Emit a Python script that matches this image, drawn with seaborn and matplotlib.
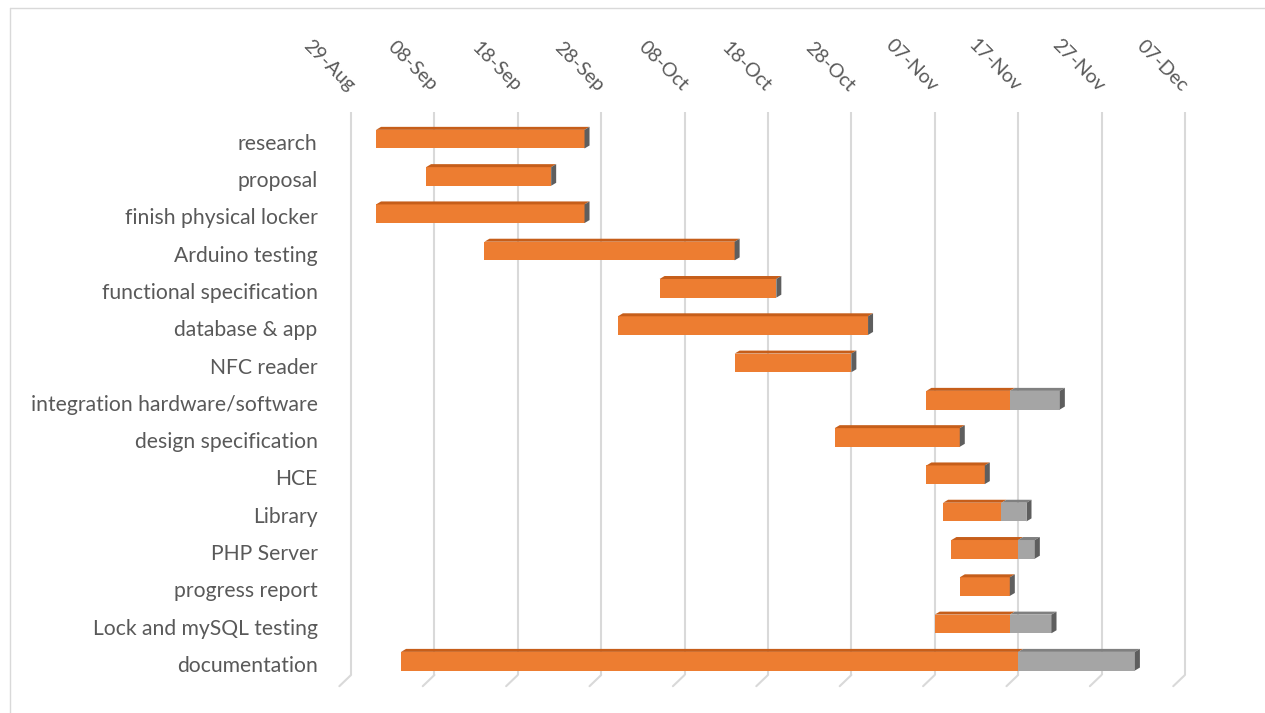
import numpy as np
import pandas as pd
import matplotlib
matplotlib.use("Agg")
import matplotlib.pyplot as plt
from matplotlib.patches import Polygon
from matplotlib.lines import Line2D
import seaborn as sns

# Gantt data (day 0 = 29-Aug)
tasks = ["research", "proposal", "finish physical locker", "Arduino testing",
         "functional specification", "database & app", "NFC reader",
         "integration hardware/software", "design specification", "HCE",
         "Library", "PHP Server", "progress report", "Lock and mySQL testing",
         "documentation"]
start_dates = ["2017-09-01", "2017-09-07", "2017-09-01", "2017-09-14",
               "2017-10-05", "2017-09-30", "2017-10-14", "2017-11-06",
               "2017-10-26", "2017-11-06", "2017-11-08", "2017-11-09",
               "2017-11-10", "2017-11-07", "2017-09-04"]
done_days = [25, 15, 25, 30, 14, 30, 14, 10, 15, 7, 7, 8, 6, 9, 74]
remaining_days = [0, 0, 0, 0, 0, 0, 0, 6, 0, 0, 3, 2, 0, 5, 14]
tick_labels = ["29-Aug", "08-Sep", "18-Sep", "28-Sep", "08-Oct", "18-Oct",
               "28-Oct", "07-Nov", "17-Nov", "27-Nov", "07-Dec"]

origin = pd.Timestamp("2017-08-29")
df = pd.DataFrame({"task": tasks, "done": done_days, "rest": remaining_days})
df["start"] = (pd.to_datetime(start_dates) - origin).days
df["done_end"] = df["start"] + df["done"]
df["total_end"] = df["done_end"] + df["rest"]

ORANGE = "#ED7D31"
GRAY = "#A5A5A5"
TXT = "#595959"

sns.set_theme(style="white")
plt.rcParams["font.family"] = ["Lato", "DejaVu Sans"]

fig = plt.figure(figsize=(12.65, 7.13), dpi=100)
ax = fig.add_axes([0.2709, 0.0533, 0.6724, 0.7897])

sns.barplot(data=df, y="task", x="total_end", color=GRAY, orient="h",
            width=0.5, saturation=1, linewidth=0, ax=ax)
n = len(df)
gray_patches = list(ax.patches)
sns.barplot(data=df, y="task", x="done_end", color=ORANGE, orient="h",
            width=0.5, saturation=1, linewidth=0, ax=ax)
orange_patches = list(ax.patches)[n:]

dx, dy = 0.6, 0.08
lift = 0.07   # 3D bars sit slightly above their labels
for i, row in df.iterrows():
    gp, op = gray_patches[i], orange_patches[i]
    op.set_x(row["start"]); op.set_width(row["done"])
    gp.set_x(row["done_end"]); gp.set_width(row["rest"])
    op.set_y(op.get_y() - lift); gp.set_y(gp.get_y() - lift)
    y0 = op.get_y()              # top edge (axis inverted)
    y1 = y0 + op.get_height()
    segs = [(row["start"], row["done_end"], "#C65E1A")]
    if row["rest"] > 0:
        segs.append((row["done_end"], row["total_end"], "#808080"))
    for a, b, c in segs:
        ax.add_patch(Polygon([(a, y0), (b, y0), (b + dx, y0 - dy), (a + dx, y0 - dy)],
                             closed=True, facecolor=c, edgecolor="none", zorder=3))
    xe = row["total_end"]
    ax.add_patch(Polygon([(xe, y0), (xe + dx, y0 - dy), (xe + dx, y1 - dy), (xe, y1)],
                         closed=True, facecolor="#5E5E5E", edgecolor="none", zorder=3))

ticks = np.arange(0, 101, 10)
ax.set_xlim(-1, 101)
ax.set_ylim(14.3, -0.8)
ax.set_xticks(ticks)
ax.set_xticklabels(tick_labels)
ax.xaxis.tick_top()
ax.tick_params(axis="x", length=0, pad=17, labelsize=14, labelcolor=TXT)
for lab in ax.get_xticklabels():
    lab.set_rotation(-45)
    lab.set_rotation_mode("anchor")
    lab.set_ha("right")
    lab.set_va("center")
ax.tick_params(axis="y", length=0, pad=18, labelsize=15.2, labelcolor=TXT)
ax.set_xlabel("")
ax.set_ylabel("")
ax.grid(axis="x", color="#D9D9D9", linewidth=1.5)
ax.set_axisbelow(True)
sns.despine(ax=ax, left=True, bottom=True, top=True, right=True)

# floor bends of the 3D gridlines
for t in ticks:
    ax.add_line(Line2D([t, t - 1.4], [14.3, 14.6], color="#D9D9D9", linewidth=1.5,
                       clip_on=False))

# light outer frame
fig.add_artist(Line2D([0.008, 1.0], [0.989, 0.989], color="#D9D9D9", linewidth=1))
fig.add_artist(Line2D([0.008, 0.008], [0.0, 0.989], color="#D9D9D9", linewidth=1))

fig.savefig("out.png", dpi=100)
